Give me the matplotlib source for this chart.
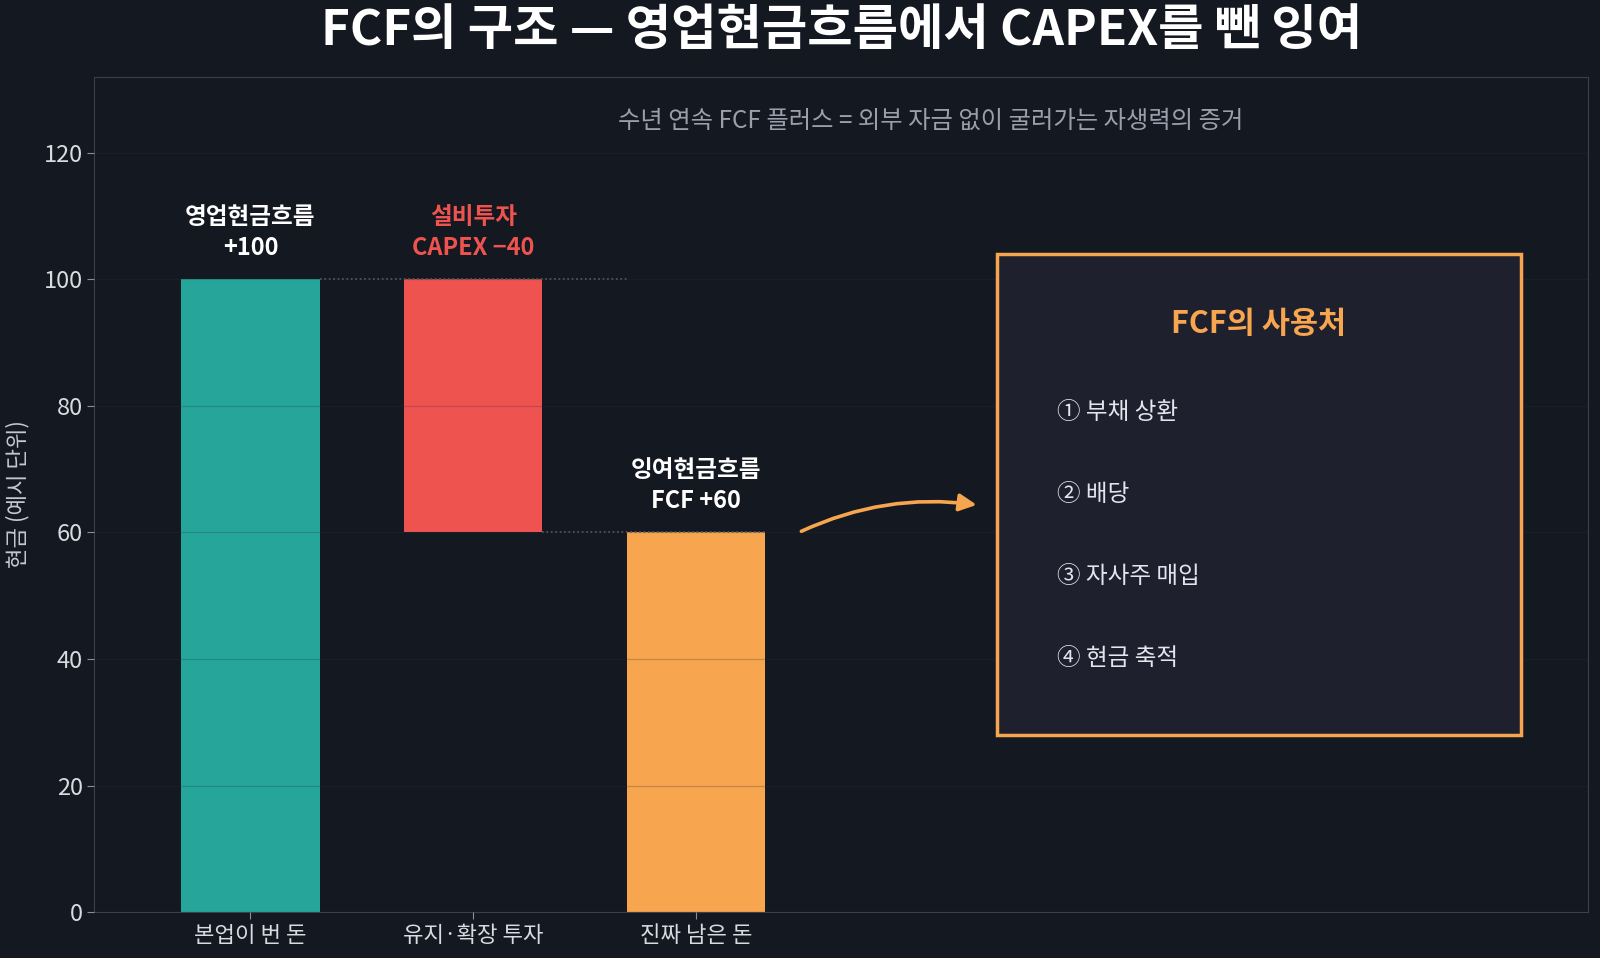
"""
FCF 구조 워터폴 차트
"""
import matplotlib
matplotlib.use('Agg')
import matplotlib.pyplot as plt
from matplotlib.patches import Rectangle, FancyArrowPatch

plt.rcParams['font.family'] = ['Noto Sans CJK KR', 'DejaVu Sans']

# 데이터
categories = ['본업이 번 돈', '유지·확장 투자', '진짜 남은 돈']
bottoms = [0, 60, 0]
heights = [100, 40, 60]
bar_colors = ['#26a69a', '#ef5350', '#f7a54f']
bar_labels = ['영업현금흐름\n+100', '설비투자\nCAPEX −40', '잉여현금흐름\nFCF +60']
label_colors = ['#ffffff', '#ef5350', '#ffffff']
uses = ['① 부채 상환', '② 배당', '③ 자사주 매입', '④ 현금 축적']
yticks = [0, 20, 40, 60, 80, 100, 120]

BG = '#141821'
ORANGE = '#f7a54f'

fig = plt.figure(figsize=(16, 9.58), dpi=100, facecolor=BG)
ax = fig.add_axes([0.059, 0.048, 0.9335, 0.8716])
ax.set_facecolor(BG)

w = 0.62
x = list(range(len(categories)))
ax.bar(x, heights, bottom=bottoms, width=w, color=bar_colors, zorder=1)

# 연결 점선
ax.plot([0 + w / 2, 2 - w / 2], [100, 100], ls=':', color='#5c626e', lw=1.2, zorder=2)
ax.plot([1 + w / 2, 2 + w / 2], [60, 60], ls=':', color='#5c626e', lw=1.2, zorder=2)

for i in x:
    top = bottoms[i] + heights[i]
    ax.text(i, top + 3, bar_labels[i], ha='center', va='bottom', fontsize=17,
            fontweight='bold', color=label_colors[i], linespacing=1.4)

ax.text(3.05, 125, '수년 연속 FCF 플러스 = 외부 자금 없이 굴러가는 자생력의 증거',
        ha='center', va='center', fontsize=17.5, color='#9aa0ab')

# 사용처 박스
ax.add_patch(Rectangle((3.35, 28), 2.35, 76, facecolor='#1e202e', edgecolor=ORANGE,
                       lw=2.5, zorder=3))
ax.text(4.52, 93, 'FCF의 사용처', ha='center', va='center', fontsize=22,
        fontweight='bold', color=ORANGE, zorder=4)
for k, u in enumerate(uses):
    ax.text(3.62, 79 - 13 * k, u, ha='left', va='center', fontsize=17,
            color='#e3e6ec', zorder=4)

arrow = FancyArrowPatch((2.46, 60), (3.27, 64.3), arrowstyle='-|>', mutation_scale=26,
                        connectionstyle='arc3,rad=-0.15', color=ORANGE, lw=2.6, zorder=4)
ax.add_patch(arrow)

ax.set_xlim(-0.7, 6.0)
ax.set_ylim(0, 132)
ax.set_xticks(x)
ax.set_xticklabels(categories, fontsize=16)
ax.set_yticks(yticks)
ax.set_yticklabels([str(v) for v in yticks], fontsize=17)
ax.tick_params(color='#8a8f99', labelcolor='#d8dbe1', length=5)
ax.grid(axis='y', color='#2b303b', alpha=0.25, lw=0.9, zorder=2)
ax.set_axisbelow(False)
for s in ax.spines.values():
    s.set_color('#3a3f4b')
ax.set_ylabel('현금 (예시 단위)', fontsize=16, color='#c5c9d1', labelpad=10)

fig.text(0.526, 0.968, 'FCF의 구조 — 영업현금흐름에서 CAPEX를 뺀 잉여', ha='center', va='center',
         fontsize=35.5, fontweight='bold', color='#ffffff')

plt.savefig('out.png', dpi=100, facecolor=BG)
plt.close()
